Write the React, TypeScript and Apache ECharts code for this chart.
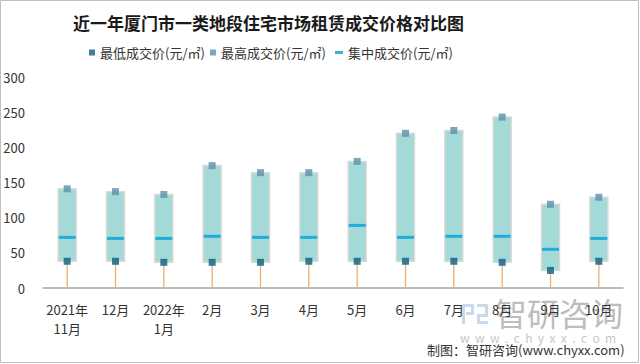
import React, { useEffect, useRef } from "react";
import * as echarts from "echarts";

const categories = ["2021年\n11月", "12月", "2022年\n1月", "2月", "3月", "4月", "5月", "6月", "7月", "8月", "9月", "10月"];
const minValues = [38, 38, 36.5, 36.5, 36.5, 38, 38, 38, 38, 36.5, 25, 38];
const maxValues = [141, 137, 133, 174, 164, 164, 180, 220, 224, 243, 119, 129];
const midValues = [72, 70.5, 70.5, 73.5, 72, 72, 89, 72, 73.5, 73.5, 55, 70.5];
const yTicks = { min: 0, max: 300, interval: 50 };

const NAME_MIN = "最低成交价(元/㎡)";
const NAME_MAX = "最高成交价(元/㎡)";
const NAME_MID = "集中成交价(元/㎡)";

const FONT = "'Noto Sans CJK SC', 'Noto Sans', sans-serif";

export default function App() {
  const ref = useRef<HTMLDivElement>(null);
  useEffect(() => {
    if (!ref.current) return;
    const chart = echarts.init(ref.current, null, { renderer: "svg" });
    const rangeData = categories.map((_, i) => [i, minValues[i], maxValues[i]]);
    const legendText = { fontSize: 13, color: "#333", fontFamily: FONT };
    chart.setOption({
      animation: false,
      backgroundColor: "#fff",
      textStyle: { fontFamily: FONT },
      title: {
        text: "近一年厦门市一类地段住宅市场租赁成交价格对比图",
        left: 73,
        top: 14,
        padding: 0,
        textStyle: { fontSize: 17, fontWeight: "bold", color: "#1a1a1a", fontFamily: FONT },
      },
      legend: [
        {
          left: 89, top: 46, padding: 0, itemWidth: 6, itemHeight: 6, itemGap: 4,
          data: [{ name: NAME_MIN, icon: "rect" }], textStyle: legendText,
        },
        {
          left: 210, top: 46, padding: 0, itemWidth: 6, itemHeight: 6,
          data: [{ name: NAME_MAX, icon: "rect" }], textStyle: legendText,
        },
        {
          left: 335, top: 46, padding: 0, itemWidth: 8, itemHeight: 3,
          data: [{ name: NAME_MID, icon: "rect" }], textStyle: legendText,
        },
      ],
      grid: { left: 43, right: 17, top: 77, bottom: 76 },
      xAxis: {
        type: "category",
        data: categories,
        axisLine: { lineStyle: { color: "#a6a6a6", width: 1.5 } },
        axisTick: { show: false },
        axisLabel: { fontSize: 13, color: "#333", lineHeight: 19, margin: 12, interval: 0 },
      },
      yAxis: {
        type: "value",
        min: yTicks.min,
        max: yTicks.max,
        interval: yTicks.interval,
        axisLine: { show: false },
        axisTick: { show: false },
        splitLine: { show: false },
        axisLabel: { fontSize: 13, color: "#333", margin: 18 },
      },
      series: [
        {
          type: "custom",
          name: "range",
          data: rangeData,
          encode: { x: 0, y: [1, 2] },
          z: 1,
          renderItem: (params: any, api: any) => {
            const i = api.value(0);
            const lo = api.coord([i, api.value(1)]);
            const hi = api.coord([i, api.value(2)]);
            const base = api.coord([i, 0]);
            const w = 18;
            return {
              type: "group",
              children: [
                {
                  type: "line",
                  shape: { x1: lo[0], y1: base[1], x2: lo[0], y2: lo[1] },
                  style: { stroke: "#f0ae74", lineWidth: 1.3 },
                },
                {
                  type: "rect",
                  shape: { x: lo[0] - w / 2, y: hi[1], width: w, height: lo[1] - hi[1] },
                  style: { fill: "#a3d9d6", stroke: "#d9d9d9", lineWidth: 1.5 },
                },
              ],
            };
          },
        },
        {
          type: "scatter",
          name: NAME_MIN,
          data: minValues,
          symbol: "rect",
          symbolSize: 7,
          itemStyle: { color: "#0b5e82" },
          z: 3,
        },
        {
          type: "scatter",
          name: NAME_MAX,
          data: maxValues,
          symbol: "rect",
          symbolSize: 7,
          itemStyle: { color: "#5e90a9" },
          z: 3,
        },
        {
          type: "scatter",
          name: NAME_MID,
          data: midValues,
          symbol: "rect",
          symbolSize: [17, 3],
          itemStyle: { color: "#00a0dc" },
          z: 3,
        },
      ],
      graphic: [
        {
          type: "rect",
          silent: true,
          shape: { x: 0.5, y: 0.5, width: 638, height: 362 },
          style: { fill: "none", stroke: "#bfbfbf", lineWidth: 1 },
        },
        {
          type: "group",
          silent: true,
          children: [
            { type: "rect", shape: { x: 462, y: 304, width: 12, height: 3 }, style: { fill: "#c6dbee" } },
            { type: "rect", shape: { x: 462, y: 304, width: 3, height: 20 }, style: { fill: "#c6dbee" } },
            { type: "rect", shape: { x: 471, y: 304, width: 3, height: 10 }, style: { fill: "#c6dbee" } },
            { type: "rect", shape: { x: 466, y: 312, width: 8, height: 3 }, style: { fill: "#c6dbee" } },
            { type: "rect", shape: { x: 477, y: 304, width: 11, height: 3 }, style: { fill: "#c6dbee" } },
            { type: "rect", shape: { x: 485, y: 304, width: 3, height: 12 }, style: { fill: "#c6dbee" } },
            { type: "rect", shape: { x: 477, y: 314, width: 11, height: 3 }, style: { fill: "#c6dbee" } },
            { type: "rect", shape: { x: 477, y: 314, width: 3, height: 10 }, style: { fill: "#c6dbee" } },
            { type: "rect", shape: { x: 477, y: 321, width: 11, height: 3 }, style: { fill: "#c6dbee" } },
          ],
        },
        {
          type: "text",
          silent: true,
          x: 495,
          y: 296,
          style: { text: "智研咨询", fontSize: 32, fill: "#bdbdbd", fontFamily: FONT },
        },
        {
          type: "text",
          silent: true,
          x: 460,
          y: 331,
          style: { text: "w  w  w  .  c  h  y  x  x  .  c  o  m", fontSize: 12, fill: "#c8c8c8", fontFamily: FONT },
        },
        {
          type: "text",
          silent: true,
          x: 427,
          y: 343,
          style: { text: "制图：智研咨询(www.chyxx.com)", fontSize: 13, fill: "#333", fontFamily: FONT },
        },
      ],
    });
    return () => chart.dispose();
  }, []);
  return (
    <div style={{ position: "fixed", left: 0, top: 0, width: 640, height: 364 }}>
      <div ref={ref} style={{ width: 640, height: 364 }} />
    </div>
  );
}
